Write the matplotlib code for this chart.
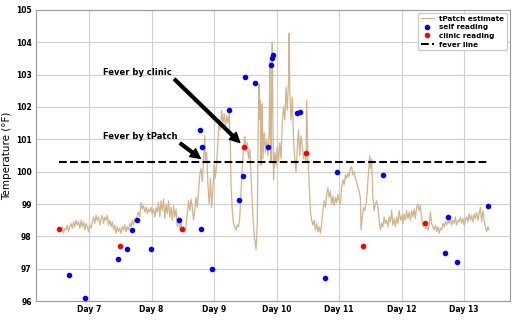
import numpy as np
import matplotlib
matplotlib.use("Agg")
import matplotlib.pyplot as plt

# tPatch estimate (day, temperature F)
patch_day = [
    6.52, 6.55, 6.57, 6.59, 6.61, 6.63, 6.65, 6.67, 6.69, 6.71, 6.73, 6.75, 6.77, 6.79,
    6.81, 6.83, 6.85, 6.87, 6.89, 6.91, 6.93, 6.95, 6.97, 6.99, 7.01, 7.03, 7.05, 7.07,
    7.09, 7.11, 7.13, 7.15, 7.17, 7.19, 7.21, 7.23, 7.25, 7.27, 7.29, 7.31, 7.33, 7.35,
    7.37, 7.39, 7.41, 7.43, 7.45, 7.47, 7.49, 7.51, 7.53, 7.55, 7.57, 7.59, 7.61, 7.63,
    7.65, 7.67, 7.69, 7.71, 7.73, 7.75, 7.77, 7.79, 7.81, 7.83, 7.85, 7.87, 7.89, 7.91,
    7.93, 7.95, 7.97, 7.99, 8.01, 8.03, 8.05, 8.07, 8.09, 8.11, 8.13, 8.15, 8.17, 8.19,
    8.21, 8.23, 8.25, 8.27, 8.29, 8.31, 8.33, 8.35, 8.37, 8.39, 8.41, 8.43, 8.45, 8.47,
    8.49, 8.51, 8.53, 8.55, 8.57, 8.59, 8.61, 8.63, 8.65, 8.67, 8.69, 8.71, 8.73, 8.75,
    8.77, 8.79, 8.81, 8.83, 8.85, 8.86, 8.88, 8.90, 8.92, 8.94, 8.96, 8.98, 9.00, 9.02,
    9.04, 9.06, 9.08, 9.10, 9.12, 9.14, 9.16, 9.18, 9.20, 9.22, 9.24, 9.26, 9.27, 9.29,
    9.31, 9.33, 9.35, 9.37, 9.39, 9.41, 9.43, 9.45, 9.47, 9.49, 9.51, 9.53, 9.55, 9.57,
    9.59, 9.61, 9.63, 9.65, 9.67, 9.69, 9.70, 9.71, 9.72, 9.73, 9.74, 9.75, 9.76, 9.77,
    9.78, 9.80, 9.82, 9.84, 9.86, 9.88, 9.89, 9.90, 9.91, 9.92, 9.93, 9.94, 9.95, 9.97,
    9.99, 10.01, 10.03, 10.05, 10.07, 10.09, 10.11, 10.13, 10.15, 10.17, 10.19, 10.20, 10.21, 10.23,
    10.25, 10.27, 10.29, 10.31, 10.33, 10.35, 10.37, 10.39, 10.41, 10.43, 10.45, 10.47, 10.48, 10.50,
    10.52, 10.54, 10.56, 10.58, 10.60, 10.62, 10.64, 10.66, 10.68, 10.70, 10.72, 10.74, 10.76, 10.78,
    10.80, 10.82, 10.84, 10.86, 10.88, 10.90, 10.92, 10.94, 10.96, 10.98, 11.00, 11.02, 11.04, 11.06,
    11.08, 11.10, 11.12, 11.14, 11.16, 11.18, 11.20, 11.22, 11.24, 11.26, 11.28, 11.30, 11.32, 11.34,
    11.35, 11.37, 11.39, 11.41, 11.43, 11.45, 11.47, 11.49, 11.50, 11.52, 11.54, 11.56, 11.58, 11.60,
    11.62, 11.64, 11.66, 11.68, 11.70, 11.72, 11.74, 11.76, 11.78, 11.80, 11.82, 11.84, 11.86, 11.88,
    11.90, 11.92, 11.94, 11.96, 11.98, 12.00, 12.02, 12.04, 12.06, 12.08, 12.10, 12.12, 12.14, 12.16,
    12.18, 12.20, 12.22, 12.24, 12.26, 12.28, 12.30, 12.32, 12.34, 12.36, 12.38, 12.40, 12.42, 12.44,
    12.46, 12.48, 12.50, 12.52, 12.54, 12.56, 12.58, 12.60, 12.62, 12.64, 12.66, 12.68, 12.70, 12.72,
    12.74, 12.76, 12.78, 12.80, 12.82, 12.84, 12.86, 12.88, 12.90, 12.92, 12.94, 12.96, 12.98, 13.00,
    13.02, 13.04, 13.06, 13.08, 13.10, 13.12, 13.14, 13.16, 13.18, 13.20, 13.22, 13.24, 13.26, 13.28,
    13.30, 13.32, 13.34, 13.36, 13.38, 13.40,
]
patch_temp = [
    98.25, 98.15, 98.3, 98.1, 98.25, 98.2, 98.35, 98.15, 98.3, 98.4, 98.25, 98.45, 98.3, 98.5,
    98.35, 98.45, 98.25, 98.5, 98.3, 98.45, 98.2, 98.4, 98.3, 98.15, 98.35, 98.25, 98.45, 98.6,
    98.4, 98.65, 98.5, 98.6, 98.35, 98.55, 98.65, 98.4, 98.6, 98.5, 98.65, 98.35, 98.5, 98.3,
    98.45, 98.2, 98.35, 98.1, 98.3, 98.15, 98.25, 98.1, 98.3, 98.2, 98.35, 98.15, 98.3, 98.2,
    98.4, 98.3, 98.5, 98.35, 98.55, 98.45, 98.65, 98.75, 98.6, 99.05, 98.85, 98.95, 98.75, 98.9,
    98.7, 98.85, 98.75, 98.9, 98.7, 98.85, 98.6, 98.9, 98.75, 99.05, 98.6, 99.1, 98.8, 99.15,
    98.55, 99.0, 98.7, 99.1, 98.6, 98.9, 98.5, 98.95, 98.6, 98.85, 98.3, 98.6, 98.25, 98.4,
    98.2, 98.3, 98.15, 98.35, 98.7, 99.1, 98.8, 99.15, 98.9, 98.5, 98.8, 99.2, 98.9, 99.4,
    99.9, 100.1, 99.7, 100.4, 101.1, 100.3, 100.6, 99.6, 99.0, 99.8, 98.9, 99.5, 100.2, 99.8,
    100.3, 100.9, 101.6, 101.3, 101.9, 101.5, 101.8, 101.4, 101.75, 101.5, 101.8, 100.8, 99.6, 98.8,
    98.4, 98.3, 98.2, 98.35, 98.3, 98.6, 99.4, 100.2, 100.7, 101.1, 100.6, 100.9, 100.4, 100.7,
    99.9, 99.0, 98.3, 97.9, 97.6, 98.4, 100.5, 102.1, 102.7, 101.6, 102.2, 100.2, 101.8, 102.1,
    100.4, 101.2, 100.6, 101.0, 100.5, 101.2, 103.4, 101.0, 100.3, 102.5, 104.0, 101.5, 99.75, 100.6,
    100.2, 100.8, 100.3, 100.9, 100.4, 101.5, 102.0, 101.6, 102.6, 101.9, 102.8, 104.28, 102.5, 101.6,
    102.3, 101.0, 100.4, 100.0, 100.7, 101.3, 100.5, 101.1, 100.8, 100.4, 100.6, 100.3, 102.2, 100.4,
    99.6, 98.8, 98.5, 98.35, 98.5, 98.2, 98.4, 98.15, 98.3, 98.1, 98.4, 98.8, 99.1, 98.9,
    99.3, 99.5, 99.2, 99.4, 99.0, 99.25, 98.95, 99.2, 99.05, 99.3, 99.1, 99.0, 99.5, 99.75,
    99.6, 99.9, 99.8, 99.95, 99.85, 100.1, 100.15, 99.9, 100.0, 99.8, 99.7, 99.5, 99.4, 99.2,
    98.2, 98.6, 98.9, 98.8, 99.0, 99.4, 100.0, 100.5, 100.1, 100.4, 99.2, 98.8, 99.0, 99.1,
    98.9, 98.5, 98.2, 98.4, 98.3, 98.6, 98.4, 98.5, 98.3, 98.6, 98.45, 98.8, 98.35, 98.55,
    98.3, 98.6, 98.4, 98.8, 98.5, 98.65, 98.4, 98.7, 98.5, 98.8, 98.55, 98.75, 98.5, 98.8,
    98.6, 98.85, 98.55, 98.9, 99.0, 98.8, 98.95, 98.6, 98.3, 98.4, 98.25, 98.3, 98.2, 98.35,
    98.75, 98.4, 98.3, 98.2, 98.35, 98.15, 98.3, 98.1, 98.25, 98.2, 98.4, 98.3, 98.45, 98.35,
    98.5, 98.4, 98.55, 98.35, 98.5, 98.4, 98.6, 98.35, 98.5, 98.45, 98.6, 98.4, 98.55, 98.35,
    98.5, 98.6, 98.45, 98.7, 98.5, 98.65, 98.45, 98.7, 98.55, 98.75, 98.5, 98.7, 98.9, 98.45,
    98.8, 98.5, 98.3, 98.15, 98.3, 98.2,
]

self_day = [6.68, 6.94, 7.46, 7.61, 7.68, 7.76, 7.99, 8.44, 8.79, 8.97, 9.39, 9.46,
            8.77, 8.81, 9.23, 9.50, 9.65, 9.86, 9.91, 9.93, 9.94, 10.32, 10.38,
            10.96, 10.77, 11.70, 12.74, 12.70, 12.88, 13.39]
self_temp = [96.8, 96.1, 97.3, 97.6, 98.2, 98.5, 97.6, 98.5, 98.23, 97.0, 99.13, 99.86,
             101.3, 100.76, 101.9, 102.93, 102.74, 100.76, 103.3, 103.5, 103.6, 101.8, 101.85,
             100.0, 96.7, 99.9, 98.6, 97.5, 97.2, 98.95]

clinic_day = [6.51, 7.50, 8.48, 9.48, 10.47, 11.38, 12.38]
clinic_temp = [98.23, 97.7, 98.23, 100.76, 100.58, 97.7, 98.41]

fever_temp = 100.3
day_ticks = [7, 8, 9, 10, 11, 12, 13]
day_labels = ["Day %d" % d for d in day_ticks]

fig = plt.figure(figsize=(5.2, 3.2), dpi=100)
ax = fig.add_axes([0.069, 0.059, 0.912, 0.91])

ax.plot(patch_day, patch_temp, color="tan", lw=0.9, label="tPatch estimate", zorder=2)
ax.plot(self_day, self_temp, "o", color="blue", ms=3, label="self reading", zorder=4)
ax.plot(clinic_day, clinic_temp, "o", color="red", ms=3, label="clinic reading", zorder=4)
ax.plot([patch_day[0], patch_day[-1]], [fever_temp, fever_temp], "--", color="black",
        lw=1.5, label="fever line", zorder=3)

arrow = dict(facecolor="black", width=2, headwidth=7, headlength=7, shrink=0.0)
ax.annotate("Fever by clinic", xy=(9.41, 100.9), xytext=(7.22, 103.08),
            ha="left", va="center", fontsize=6, fontweight="bold", arrowprops=arrow)
ax.annotate("Fever by tPatch", xy=(8.78, 100.41), xytext=(7.22, 101.08),
            ha="left", va="center", fontsize=6, fontweight="bold", arrowprops=arrow)

ax.set_xlim(6.147, 13.736)
ax.set_ylim(96, 105)
ax.set_xticks(day_ticks)
ax.set_xticklabels(day_labels)
ax.set_yticks(np.arange(96, 106, 1))
ax.tick_params(length=0, pad=3, labelsize=5.5)
for lab in ax.get_xticklabels() + ax.get_yticklabels():
    lab.set_fontweight("bold")
ax.grid(True, color="#d0d0d0", lw=0.8)
ax.set_axisbelow(True)
for s in ax.spines.values():
    s.set_color("#999999")
ax.set_ylabel("Temperature (°F)", fontsize=7.5)
ax.yaxis.set_label_coords(-0.05, 0.5)

ax.legend(loc="upper right", prop={"weight": "bold", "size": 5.2}, framealpha=1,
          edgecolor="#cccccc", borderaxespad=0.4, labelspacing=0.35, handlelength=1.8)

fig.savefig("out.png", dpi=100)
